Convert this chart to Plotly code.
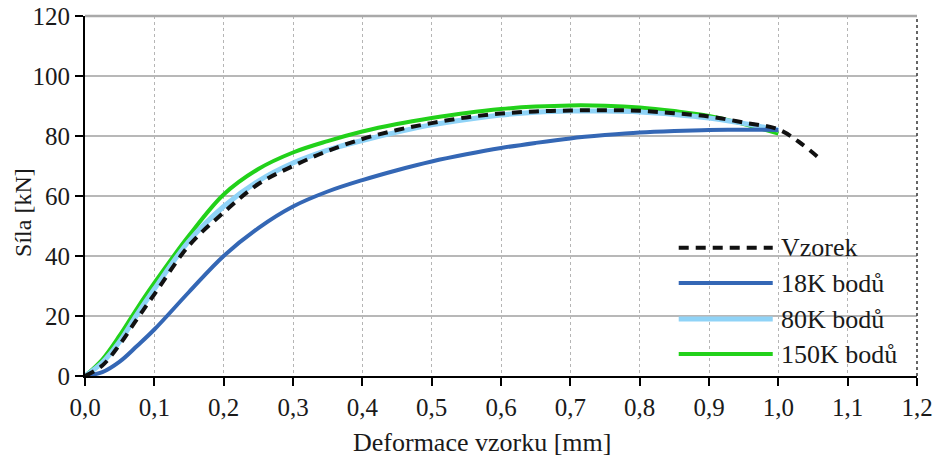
import plotly.graph_objects as go

# Deformation [mm] (finer steps in the initial rise), force [kN]
x_sim = [0, 0.025, 0.05, 0.075, 0.1, 0.15, 0.2, 0.25, 0.3, 0.35, 0.4, 0.45, 0.5,
         0.55, 0.6, 0.65, 0.7, 0.75, 0.8, 0.85, 0.9, 0.95, 1.0]
x_vzorek = x_sim + [1.03, 1.063]

f_vzorek = [0, 3.5, 10.5, 19, 27.2, 43.5, 54.5, 64, 70, 75, 79, 82, 84.3,
            86.2, 87.5, 88.2, 88.5, 88.6, 88.4, 87.6, 86.5, 84.5, 82.2,
            78, 71.8]
f_18k = [0, 1.3, 4.8, 10, 15.5, 28, 40, 49.3, 56.5, 61.5, 65.3, 68.6, 71.5,
         73.9, 76, 77.7, 79.2, 80.3, 81.2, 81.7, 82, 82.1, 82]
f_80k = [0, 4.5, 11.5, 20.5, 29, 45, 56.5, 65, 71, 75.3, 78.5, 81.3, 83.7,
         85.5, 87, 87.9, 88.3, 88.3, 88, 87.2, 86, 84.2, 82]
f_150k = [0, 5.5, 13.5, 22.5, 31, 46.8, 60.5, 69, 74.5, 78.3, 81.5, 84, 86,
          87.7, 89, 89.8, 90.2, 90.1, 89.5, 88.3, 86.7, 84, 80.8]

names = ["Vzorek", "18K bodů", "80K bodů", "150K bodů"]
colors = ["#111111", "#3467b5", "#8fd3f7", "#22d11a"]

x_ticks = [round(0.1 * i, 1) for i in range(13)]
y_ticks = [0, 20, 40, 60, 80, 100, 120]

FONT = "Liberation Serif, DejaVu Serif, serif"
TXT = "#1a1a1a"
DASH = "10px,7px"

fig = go.Figure()

fig.add_trace(go.Scatter(x=x_sim, y=f_150k, mode="lines", name=names[3],
                         line=dict(color=colors[3], width=4, shape="spline")))
fig.add_trace(go.Scatter(x=x_sim, y=f_80k, mode="lines", name=names[2],
                         line=dict(color=colors[2], width=5, shape="spline")))
fig.add_trace(go.Scatter(x=x_sim, y=f_18k, mode="lines", name=names[1],
                         line=dict(color=colors[1], width=4, shape="spline")))
fig.add_trace(go.Scatter(x=x_vzorek, y=f_vzorek, mode="lines", name=names[0],
                         line=dict(color=colors[0], width=4, shape="spline",
                                   dash=DASH)))

# Hand-built legend with long line samples
legend_y = [0.356, 0.258, 0.158, 0.061]
shapes = []
annotations = []
for i, (nm, col) in enumerate(zip(names, colors)):
    shapes.append(dict(type="line", xref="paper", yref="paper",
                       x0=0.7136, x1=0.8266, y0=legend_y[i], y1=legend_y[i],
                       line=dict(color=col, width=5 if i == 2 else 4,
                                 dash=DASH if i == 0 else "solid")))
    annotations.append(dict(xref="paper", yref="paper", x=0.834, y=legend_y[i],
                            text=nm, showarrow=False, xanchor="left",
                            yanchor="middle",
                            font=dict(family=FONT, size=26, color=TXT)))

# Frame: grey top edge and dotted right edge
shapes.append(dict(type="line", xref="paper", yref="paper", x0=0, x1=1,
                   y0=1, y1=1, line=dict(color="#a9a9a9", width=2.5)))
shapes.append(dict(type="line", xref="paper", yref="paper", x0=1, x1=1,
                   y0=0, y1=1, line=dict(color="#333333", width=1.5, dash="dot")))

# Axis titles
annotations.append(dict(xref="paper", yref="paper", x=0.477, y=-0.186,
                        text="Deformace vzorku [mm]", showarrow=False,
                        xanchor="center", yanchor="middle",
                        font=dict(family=FONT, size=26, color=TXT)))
annotations.append(dict(xref="paper", yref="paper", x=-0.0745, y=0.453,
                        text="Síla [kN]", showarrow=False, textangle=-90,
                        xanchor="center", yanchor="middle",
                        font=dict(family=FONT, size=24, color=TXT)))

fig.update_layout(
    width=936, height=461,
    margin=dict(l=85, r=19, t=16, b=85),
    paper_bgcolor="white", plot_bgcolor="white",
    separators=", ",
    showlegend=False,
    font=dict(family=FONT, size=25, color=TXT),
    shapes=shapes,
    annotations=annotations,
    xaxis=dict(range=[0, 1.2], tickvals=x_ticks, tickformat=".1f",
               automargin=False,
               showgrid=True, gridcolor="#b5b5b5", gridwidth=1, griddash="dot",
               showline=True, linecolor="black", linewidth=2,
               ticks="outside", ticklen=8, tickwidth=2, tickcolor="black",
               zeroline=False, tickfont=dict(family=FONT, size=25, color=TXT)),
    yaxis=dict(range=[0, 120], tickvals=y_ticks, automargin=False,
               showgrid=True, gridcolor="#b8b8b8", gridwidth=1.5,
               showline=True, linecolor="black", linewidth=2,
               ticks="outside", ticklen=8, tickwidth=2, tickcolor="black",
               zeroline=False, tickfont=dict(family=FONT, size=25, color=TXT)),
)

fig.write_html("out.html")
